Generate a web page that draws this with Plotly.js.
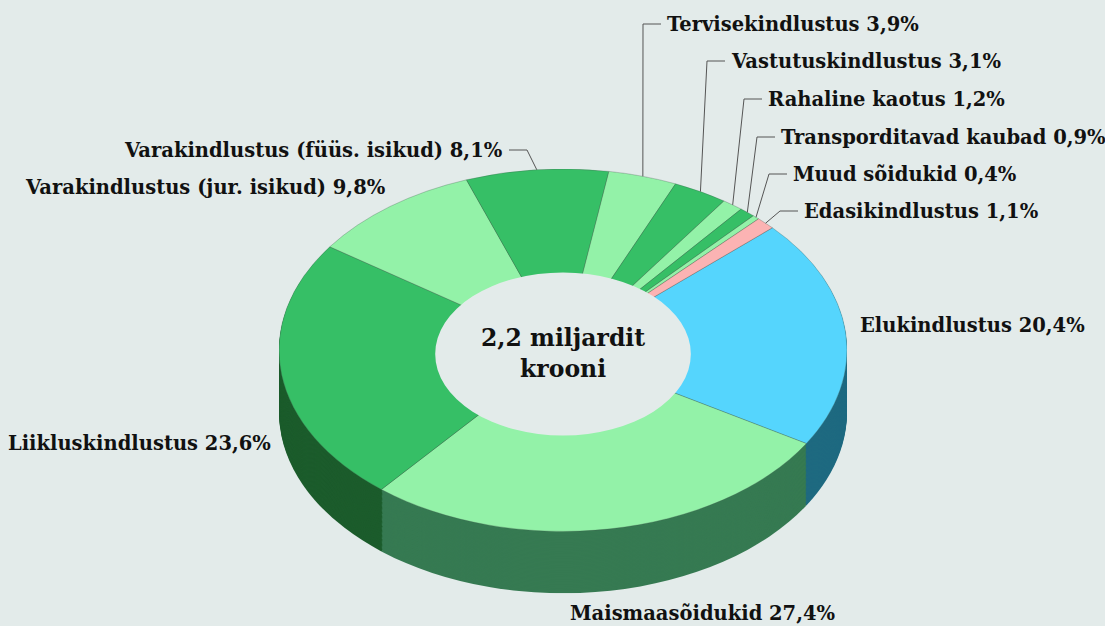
<!DOCTYPE html>
<html><head><meta charset="utf-8">
<script src="https://cdn.plot.ly/plotly-3.0.1.min.js"></script>
<style>
html,body{margin:0;padding:0;background:#e3ebea;width:1105px;height:626px;overflow:hidden;}
#pie{position:absolute;left:279px;top:169px;width:568px;height:665px;transform:scaleY(0.638);transform-origin:0 0;}
#ov{position:absolute;left:0;top:0;width:1105px;height:626px;}
</style></head>
<body>
<div id="pie"></div>
<div id="ov"></div>
<script>
// ---- data ----
const categories = ["Elukindlustus","Maismaasõidukid","Liikluskindlustus","Varakindlustus (jur. isikud)","Varakindlustus (füüs. isikud)","Tervisekindlustus","Vastutuskindlustus","Rahaline kaotus","Transporditavad kaubad","Muud sõidukid","Edasikindlustus"];
const shares = [20.4,27.4,23.6,9.8,8.1,3.9,3.1,1.2,0.9,0.4,1.1];
const centerLabel = "2,2 miljardit<br>krooni";

// ---- style ----
const topColors = ["#55d5fd","#93f2a8","#36bf66","#93f2a8","#36bf66","#93f2a8","#36bf66","#93f2a8","#36bf66","#93f2a8","#fbb3b3"];
const sideColorMap = {"#55d5fd":"#1f6a80","#93f2a8":"#367a52","#36bf66":"#1c5c2c","#fbb3b3":"#a06a6a"};
const sideColors = topColors.map(c => sideColorMap[c]);
const ROT = 47.5, HOLE = 0.45;
const W = 568, H = 665, D = 97; // pre-scale px
const BG = "#e3ebea";

const traces = [];
for (let d = D; d > 0; d -= 2) {
  traces.push({type:"pie", values:shares, labels:categories, sort:false, direction:"clockwise", rotation:ROT,
    marker:{colors:sideColors, line:{width:0}}, textinfo:"none", hoverinfo:"skip", showlegend:false,
    domain:{x:[0,1], y:[(D-d)/H,(H-d)/H]}});
}
traces.push({type:"pie", values:shares, labels:categories, sort:false, direction:"clockwise", rotation:ROT,
  marker:{colors:topColors, line:{width:0.6,color:"rgba(70,90,80,0.6)"}}, textinfo:"none", hoverinfo:"skip", showlegend:false,
  domain:{x:[0,1], y:[D/H,1]}});
// hole filler
const hr = HOLE*W/2, hcy = H - W/2 - 6;
traces.push({type:"pie", values:[1], labels:["hole"], marker:{colors:[BG], line:{width:0}}, textinfo:"none", hoverinfo:"skip", showlegend:false, sort:false,
  domain:{x:[(W/2-hr)/W,(W/2+hr)/W], y:[(hcy-hr)/H,(hcy+hr)/H]}});

Plotly.newPlot("pie", traces, {width:W, height:H, margin:{l:0,r:0,t:0,b:0}, paper_bgcolor:"rgba(0,0,0,0)", showlegend:false}, {staticPlot:true});

// ---- labels overlay ----
const fmt = v => v.toFixed(1).replace(".", ",") + "%";
const CX = 563, CY = 350, RX = 284, RY = 181;
// label layout: [x, y, anchor, leader]
const labelPos = [
  [858,325,"left",false],
  [568,613,"left",false],
  [273,443,"right",false],
  [388,187,"right",false],
  [505,150,"right",true],
  [665,24,"left",true],
  [729,61,"left",true],
  [766,99,"left",true],
  [779,137,"left",true],
  [791,174,"left",true],
  [802,211,"left",true]
];
const font = {family:"DejaVu Serif", size:19.5, color:"#111", weight:"bold"};
const annotations = [], shapes = [];
const total = shares.reduce((a,b)=>a+b,0);
let cum = 0;
categories.forEach((c,i) => {
  const mid = ROT + (cum + shares[i]/2)/total*360; cum += shares[i];
  const t = mid*Math.PI/180;
  const ax = CX + RX*Math.sin(t), ay = CY - RY*Math.cos(t);
  const [lx, ly, anc, lead] = labelPos[i];
  annotations.push({x:lx, y:ly, xref:"x", yref:"y", text:c+" "+fmt(shares[i]), showarrow:false, xanchor:anc, yanchor:"middle", font:font});
  if (lead) {
    const s = anc==="left" ? -1 : 1;
    const e1 = lx + s*4, e2 = lx + s*22;
    shapes.push({type:"path", xref:"x", yref:"y", path:`M${ax},${ay} L${e2},${ly} L${e1},${ly}`, line:{color:"#555", width:1}});
  }
});
annotations.push({x:CX, y:353, xref:"x", yref:"y", text:centerLabel, showarrow:false, xanchor:"center", yanchor:"middle", font:{family:"DejaVu Serif", size:23.5, color:"#111", weight:"bold"}});

Plotly.newPlot("ov", [], {width:1105, height:626, margin:{l:0,r:0,t:0,b:0}, paper_bgcolor:"rgba(0,0,0,0)", plot_bgcolor:"rgba(0,0,0,0)",
  xaxis:{range:[0,1105], visible:false, fixedrange:true}, yaxis:{range:[626,0], visible:false, fixedrange:true},
  annotations:annotations, shapes:shapes, showlegend:false}, {staticPlot:true});
</script>
</body></html>
